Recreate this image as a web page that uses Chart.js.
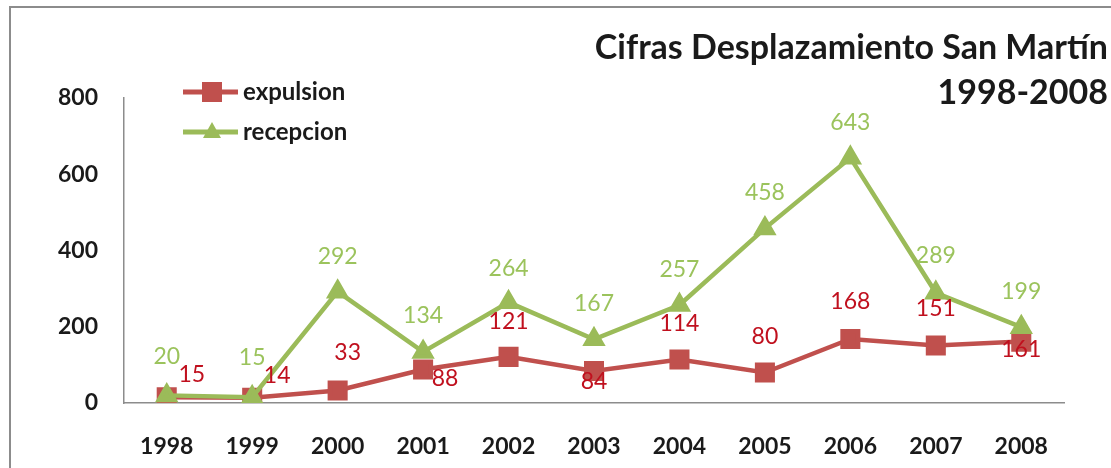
<!DOCTYPE html>
<html>
<head>
<meta charset="utf-8">
<script src="https://cdn.jsdelivr.net/npm/chart.js@4.4.1/dist/chart.umd.min.js"></script>
<style>
  html, body { margin: 0; padding: 0; background: #fff; }
  #wrap { width: 1111px; height: 468px; position: relative; }
</style>
</head>
<body>
<div id="wrap"><canvas id="line_chart"></canvas></div>
<script>
// data
var years = ["1998", "1999", "2000", "2001", "2002", "2003", "2004", "2005", "2006", "2007", "2008"];
var expulsion = [15, 14, 33, 88, 121, 84, 114, 80, 168, 151, 161];
var recepcion = [20, 15, 292, 134, 264, 167, 257, 458, 643, 289, 199];
var yTicks = [0, 200, 400, 600, 800];
var titleLines = ["Cifras Desplazamiento San Martín", "1998-2008"];

// label offsets (px) from each point, the way they sit in the picture
var expOffsets = [[25, -23], [25, -22], [10, -38], [22, 9], [0, -35], [0, 11], [0, -36], [0, -36], [0, -37], [0, -37], [0, 8]];
var recOffsets = [[0, -39], [0, -40], [0, -35], [0, -36], [0, -34], [0, -36], [0, -35], [0, -36], [0, -35], [0, -37], [0, -36]];

var FONT = 'Lato, "Open Sans", sans-serif';

// frame, title, legend
var decor = {
  id: 'decor',
  beforeDraw: function(chart) {
    var c = chart.ctx;
    c.save();
    c.fillStyle = '#fff';
    c.fillRect(0, 0, chart.width, chart.height);
    c.strokeStyle = '#8c8c8c';
    c.lineWidth = 2;
    c.strokeRect(10, 7, 1300, 700);
    c.restore();
  },
  afterDraw: function(chart) {
    var c = chart.ctx;
    c.save();
    c.fillStyle = '#1a1a1a';
    c.font = 'bold 34px ' + FONT;
    c.textAlign = 'right';
    c.textBaseline = 'middle';
    c.fillText(titleLines[0], 1108, 48);
    c.fillText(titleLines[1], 1108, 93);

    // legend
    chart.data.datasets.forEach(function(ds, i) {
      var y = 92 + i * 40;
      c.strokeStyle = ds.borderColor;
      c.lineWidth = 5;
      c.beginPath();
      c.moveTo(183, y);
      c.lineTo(238, y);
      c.stroke();
      c.fillStyle = ds.backgroundColor;
      if (ds.pointStyle === 'rect') {
        c.fillRect(202, y - 10, 20, 20);
      } else {
        c.beginPath();
        c.moveTo(212, y - 10);
        c.lineTo(221, y + 6);
        c.lineTo(203, y + 6);
        c.closePath();
        c.fill();
      }
      c.fillStyle = '#1a1a1a';
      c.font = 'bold 24px ' + FONT;
      c.textAlign = 'left';
      c.fillText(ds.label, 243, y);
    });
    c.restore();
  }
};

// value labels next to each point
var valueLabels = {
  id: 'valueLabels',
  afterDatasetsDraw: function(chart) {
    var c = chart.ctx;
    c.save();
    c.font = '23px ' + FONT;
    c.textAlign = 'center';
    c.textBaseline = 'middle';
    chart.data.datasets.forEach(function(ds, i) {
      var meta = chart.getDatasetMeta(i);
      c.fillStyle = ds.labelColor;
      meta.data.forEach(function(pt, j) {
        var off = ds.labelOffsets[j];
        c.fillText(ds.data[j], pt.x + off[0], pt.y + off[1]);
      });
    });
    c.restore();
  }
};

var tickFont = { family: FONT, size: 23, weight: 'bold' };

var ctx = document.getElementById("line_chart").getContext("2d");
new Chart(ctx, {
  type: 'line',
  data: {
    labels: years,
    datasets: [
      {
        label: 'expulsion',
        data: expulsion,
        borderColor: '#C0504D',
        backgroundColor: '#C0504D',
        borderWidth: 4.5,
        pointStyle: 'rect',
        pointRadius: 11,
        pointHoverRadius: 11,
        labelColor: '#C0101E',
        labelOffsets: expOffsets,
        order: 2
      },
      {
        label: 'recepcion',
        data: recepcion,
        borderColor: '#9BBB59',
        backgroundColor: '#9BBB59',
        borderWidth: 4.5,
        pointStyle: 'triangle',
        pointRadius: 9,
        pointHoverRadius: 9,
        labelColor: '#9BC35C',
        labelOffsets: recOffsets,
        order: 1
      }
    ]
  },
  options: {
    responsive: true,
    maintainAspectRatio: false,
    animation: false,
    layout: { padding: { top: 98, right: 47, left: 0, bottom: 0 } },
    plugins: {
      legend: { display: false },
      title: { display: false },
      tooltip: { enabled: false }
    },
    scales: {
      x: {
        offset: true,
        grid: { display: false, drawTicks: false },
        border: { display: true, color: '#8c8c8c', width: 1.5 },
        ticks: { color: '#1a1a1a', font: tickFont, padding: 30, maxRotation: 0 },
        afterFit: function(s) { s.height = 65; }
      },
      y: {
        min: 0,
        max: 800,
        afterBuildTicks: function(s) { s.ticks = yTicks.map(function(v) { return { value: v }; }); },
        grid: { display: false, drawTicks: false },
        border: { display: true, color: '#8c8c8c', width: 1.5 },
        ticks: { color: '#1a1a1a', font: tickFont, padding: 26 },
        afterFit: function(s) { s.width = 124; }
      }
    }
  },
  plugins: [decor, valueLabels]
});
</script>
</body>
</html>
